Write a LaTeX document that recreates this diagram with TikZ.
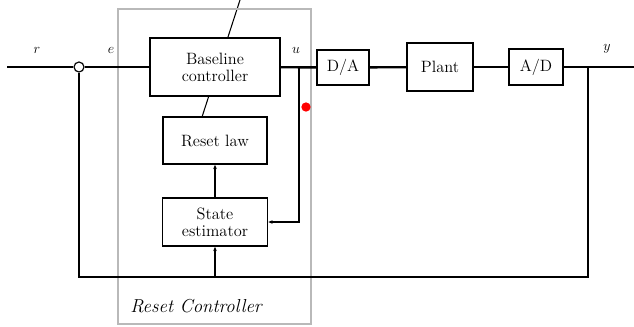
\documentclass[tikz,border=0pt]{standalone}
\usepackage{amsmath,amssymb}
\usepackage{tikz}
\usetikzlibrary{arrows.meta,positioning,backgrounds}

\begin{document}
\begin{tikzpicture}[x=0.03cm, y=-0.03cm]
\useasboundingbox (0,0) rectangle (634,326);
\tikzstyle{blk}=[draw, fill=white, line width=1.4pt, align=center,
  font=\fontsize{14}{14.5}\selectfont, inner sep=1pt]
\tikzstyle{sig}=[font=\fontsize{13}{14}\selectfont]
\tikzstyle{wire}=[line width=2pt]
\tikzstyle{inwire}=[line width=1.1pt]
\tikzstyle{sarrow}=[-{Stealth[length=1.3mm, width=1.1mm]}, line width=1.1pt]
% reset controller frame
\draw[gray!55, line width=1.6pt] (118,9) rectangle (311,324);
\node[font=\itshape\fontsize{16}{17}\selectfont] (rclab) at (196,306) {Reset Controller};
% blocks
\node[blk, minimum width=3.9cm, minimum height=1.74cm] (base) at (215,67) {Baseline\\controller};
\node[blk, minimum width=3.12cm, minimum height=1.41cm] (law) at (215,140.5) {Reset law};
\node[blk, minimum width=3.15cm, minimum height=1.44cm] (est) at (215,222) {State\\estimator};
\node[blk, minimum width=1.56cm, minimum height=1.05cm] (da) at (343,67.5) {D/A};
\node[blk, minimum width=1.98cm, minimum height=1.44cm] (plant) at (440,67) {Plant};
\node[blk, minimum width=1.62cm, minimum height=1.08cm] (ad) at (536,67) {A/D};
\node[draw, circle, fill=white, line width=1pt, minimum size=0.3cm, inner sep=0pt] (sum) at (79,67) {};
\node[circle, fill=red, minimum size=0.28cm, inner sep=0pt] (dot) at (306,107) {};
% signal labels
\node[sig] (lr) at (37,50) {$r$};
\node[sig] (le) at (111,50) {$e$};
\node[sig] (lu) at (296,50) {$u$};
\node[sig] (ly) at (607,49) {$y$};
% points on the wires
\coordinate (in) at (7,67);
\coordinate (out) at (634,67);
\coordinate (ub) at (299,67);
\coordinate (yb) at (588,67);
\coordinate (fb) at (215,277);
\coordinate (sl) at (202,117);
\coordinate (st) at (240,0);
% reset slash, behind the controller
\begin{pgfonlayer}{background}
\draw[line width=0.9pt] (sl) -- (st);
\end{pgfonlayer}
% main loop
\draw[wire] (in) -- (sum);
\draw[wire] (sum) -- (base);
\draw[wire] (base) -- (da);
\draw[wire] (da) -- (plant);
\draw[wire] (plant) -- (ad);
\draw[wire] (ad) -- (out);
\draw[wire] (yb) |- (fb) -| (sum);
% estimator inputs and output
\draw[inwire, -{Stealth[length=1.3mm, width=1.1mm]}] (ub) |- (est);
\draw[sarrow] (fb) -- (est);
\draw[sarrow] (est) -- (law);
\end{tikzpicture}
\end{document}
